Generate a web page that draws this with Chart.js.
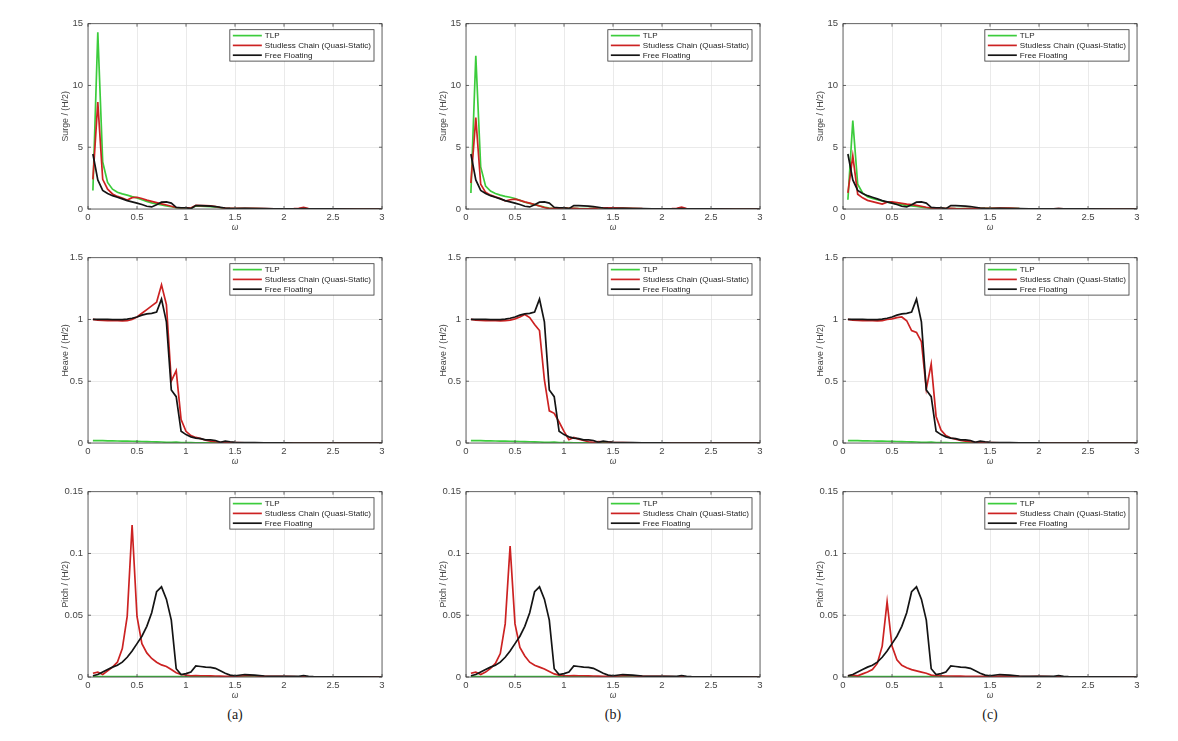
<!DOCTYPE html>
<html>
<head>
<meta charset="utf-8">
<title>Surge / Heave / Pitch RAO</title>
<script src="https://cdn.jsdelivr.net/npm/chart.js@4.4.1/dist/chart.umd.min.js"></script>
<style>
    body { margin: 0; width: 1178px; height: 741px; background: #fff; position: relative; overflow: hidden; }
    .panel { position: absolute; width: 330px; height: 222px; }
    .caption { position: absolute; top: 707px; width: 60px; text-align: center;
               font: 14px "Liberation Serif", "DejaVu Serif", serif; color: #1a1a1a; }
</style>
</head>
<body>
<div class="panel"><canvas id="c00"></canvas></div>
<div class="panel"><canvas id="c01"></canvas></div>
<div class="panel"><canvas id="c02"></canvas></div>
<div class="panel"><canvas id="c10"></canvas></div>
<div class="panel"><canvas id="c11"></canvas></div>
<div class="panel"><canvas id="c12"></canvas></div>
<div class="panel"><canvas id="c20"></canvas></div>
<div class="panel"><canvas id="c21"></canvas></div>
<div class="panel"><canvas id="c22"></canvas></div>
<div class="caption" style="left:205px">(a)</div>
<div class="caption" style="left:583px">(b)</div>
<div class="caption" style="left:960px">(c)</div>

<script>
// wave frequency samples (omega)
const omega = [0.05, 0.1, 0.15, 0.2, 0.25, 0.3, 0.35, 0.4, 0.45, 0.5,
    0.55, 0.6, 0.65, 0.7, 0.75, 0.8, 0.85, 0.9, 0.95, 1.0,
    1.05, 1.1, 1.15, 1.2, 1.25, 1.3, 1.35, 1.4, 1.45, 1.5,
    1.6, 1.7, 1.8, 1.9, 2.0, 2.1, 2.15, 2.2, 2.25, 2.3, 2.5, 2.75, 3.0];

// Surge
const surgeFree = [4.45, 2.35, 1.5, 1.25, 1.08, 0.95, 0.82, 0.68, 0.58, 0.48,
    0.36, 0.22, 0.17, 0.35, 0.55, 0.58, 0.48, 0.14, 0.1, 0.1,
    0.03, 0.28, 0.27, 0.26, 0.24, 0.2, 0.14, 0.08, 0.05, 0.04,
    0.05, 0.04, 0.03, 0.02, 0.02, 0.01, 0.01, 0.03, 0.01, 0.01, 0.01, 0, 0];
const surgeTlpA = [1.5, 14.3, 3.8, 2.15, 1.6, 1.35, 1.22, 1.12, 1.0, 0.9,
    0.75, 0.62, 0.5, 0.42, 0.33, 0.25, 0.18, 0.1, 0.08, 0.08,
    0.06, 0.25, 0.24, 0.22, 0.2, 0.16, 0.1, 0.06, 0.04, 0.04,
    0.04, 0.03, 0.02, 0.02, 0.01, 0.01, 0.01, 0.02, 0.01, 0.01, 0, 0, 0];
const surgeChainA = [2.4, 8.65, 2.4, 1.6, 1.22, 1.02, 0.88, 0.72, 0.92, 0.95,
    0.85, 0.72, 0.62, 0.52, 0.42, 0.32, 0.22, 0.12, 0.1, 0.1,
    0.08, 0.3, 0.28, 0.27, 0.25, 0.2, 0.12, 0.07, 0.05, 0.05,
    0.05, 0.05, 0.03, 0.02, 0.02, 0.03, 0.06, 0.13, 0.03, 0.01, 0.01, 0, 0];
const surgeTlpB = [1.3, 12.4, 3.4, 1.85, 1.45, 1.25, 1.12, 1.02, 0.95, 0.85,
    0.7, 0.55, 0.45, 0.35, 0.25, 0.15, 0.08, 0.05, 0.05, 0.08,
    0.05, 0.06, 0.04, 0.03, 0.04, 0.06, 0.08, 0.08, 0.08, 0.07,
    0.06, 0.04, 0.02, 0.02, 0.01, 0.01, 0.01, 0.02, 0.01, 0.01, 0, 0, 0];
const surgeChainB = [2.1, 7.4, 2.0, 1.35, 1.12, 0.98, 0.85, 0.65, 0.75, 0.8,
    0.7, 0.58, 0.47, 0.36, 0.24, 0.12, 0.03, 0.05, 0.06, 0.1,
    0.05, 0.05, 0.03, 0.02, 0.03, 0.05, 0.08, 0.1, 0.1, 0.09,
    0.08, 0.06, 0.03, 0.02, 0.02, 0.03, 0.06, 0.15, 0.03, 0.01, 0.01, 0, 0];
const surgeTlpC = [0.75, 7.15, 2.0, 1.3, 1.0, 0.85, 0.75, 0.65, 0.55, 0.5,
    0.42, 0.35, 0.3, 0.25, 0.2, 0.15, 0.1, 0.07, 0.05, 0.05,
    0.04, 0.04, 0.03, 0.03, 0.03, 0.04, 0.05, 0.05, 0.05, 0.05,
    0.06, 0.06, 0.03, 0.02, 0.01, 0.01, 0.01, 0.01, 0.01, 0, 0, 0, 0];
const surgeChainC = [1.3, 4.3, 1.2, 0.9, 0.7, 0.6, 0.5, 0.4, 0.55, 0.58,
    0.52, 0.46, 0.4, 0.35, 0.3, 0.22, 0.14, 0.08, 0.05, 0.05,
    0.05, 0.05, 0.03, 0.02, 0.03, 0.04, 0.05, 0.05, 0.05, 0.05,
    0.08, 0.08, 0.03, 0.02, 0.02, 0.02, 0.02, 0.03, 0.01, 0.01, 0, 0, 0];

// Heave
const heaveFree = [1.0, 1.0, 1.0, 1.0, 0.998, 0.998, 0.998, 1.003, 1.01, 1.02,
    1.035, 1.045, 1.05, 1.06, 1.165, 0.98, 0.43, 0.375, 0.095, 0.068,
    0.05, 0.04, 0.035, 0.025, 0.025, 0.02, 0.005, 0.015, 0.01, 0.006,
    0.004, 0.003, 0.002, 0.001, 0.001, 0, 0, 0, 0, 0, 0, 0, 0];
const heaveTlp = [0.02, 0.02, 0.019, 0.018, 0.017, 0.016, 0.015, 0.015, 0.014, 0.013,
    0.012, 0.011, 0.01, 0.009, 0.008, 0.006, 0.005, 0.007, 0.004, 0.003,
    0.003, 0.002, 0.002, 0.002, 0.001, 0.001, 0.001, 0.001, 0.001, 0.001,
    0.001, 0, 0, 0, 0, 0, 0, 0, 0, 0, 0, 0, 0];
const heaveChainA = [1.0, 0.995, 0.993, 0.99, 0.99, 0.99, 0.988, 0.99, 1.0, 1.02,
    1.05, 1.08, 1.11, 1.14, 1.28, 1.12, 0.5, 0.585, 0.19, 0.095,
    0.06, 0.045, 0.035, 0.022, 0.015, 0.01, 0.006, 0.005, 0.004, 0.003,
    0.002, 0.001, 0, 0, 0, 0, 0, 0, 0, 0, 0, 0, 0];
const heaveChainB = [1.0, 0.995, 0.993, 0.99, 0.99, 0.99, 0.988, 0.99, 0.995, 1.005,
    1.02, 1.04, 1.015, 0.96, 0.91, 0.51, 0.26, 0.24, 0.17, 0.094,
    0.027, 0.045, 0.03, 0.02, 0.01, 0.005, 0.012, 0.01, 0.008, 0.005,
    0.003, 0.001, 0, 0, 0, 0, 0, 0, 0, 0, 0, 0, 0];
const heaveChainC = [1.0, 0.995, 0.993, 0.99, 0.99, 0.99, 0.988, 0.99, 1.0, 1.005,
    1.015, 1.02, 0.99, 0.91, 0.895, 0.82, 0.435, 0.64, 0.215, 0.105,
    0.06, 0.04, 0.03, 0.02, 0.015, 0.01, 0.006, 0.005, 0.004, 0.003,
    0.002, 0.001, 0, 0, 0, 0, 0, 0, 0, 0, 0, 0, 0];

// Pitch
const pitchFree = [0.001, 0.002, 0.004, 0.006, 0.008, 0.0095, 0.012, 0.016, 0.021, 0.027,
    0.033, 0.041, 0.052, 0.069, 0.073, 0.063, 0.046, 0.0067, 0.002, 0.0027,
    0.004, 0.009, 0.0085, 0.008, 0.0078, 0.007, 0.005, 0.003, 0.0015, 0.001,
    0.002, 0.0015, 0.0008, 0.0005, 0.0005, 0.0005, 0.0005, 0.0012, 0.0005, 0.0003, 0.0002, 0.0001, 0];
const pitchTlp = [0.0004, 0.0004, 0.0004, 0.0004, 0.0004, 0.0004, 0.0004, 0.0004, 0.0004, 0.0004,
    0.0004, 0.0004, 0.0004, 0.0003, 0.0003, 0.0003, 0.0003, 0.0003, 0.0003, 0.0002,
    0.0002, 0.0002, 0.0001, 0.0001, 0.0001, 0.0001, 0.0001, 0.0001, 0.0001, 0.0001,
    0, 0, 0, 0, 0, 0, 0, 0, 0, 0, 0, 0, 0];
const pitchChainA = [0.003, 0.004, 0.002, 0.005, 0.008, 0.012, 0.023, 0.049, 0.123, 0.049,
    0.027, 0.0195, 0.015, 0.012, 0.0098, 0.0085, 0.006, 0.0035, 0.002, 0.0015,
    0.001, 0.0012, 0.001, 0.001, 0.0009, 0.0008, 0.0007, 0.0006, 0.0006, 0.0006,
    0.001, 0.001, 0.0005, 0.0005, 0.0006, 0.0003, 0.0002, 0.0002, 0.0002, 0.0001, 0.0001, 0, 0];
const pitchChainB = [0.003, 0.004, 0.002, 0.004, 0.007, 0.011, 0.019, 0.043, 0.106, 0.043,
    0.024, 0.017, 0.012, 0.0095, 0.008, 0.0065, 0.0045, 0.0025, 0.0015, 0.0012,
    0.001, 0.0012, 0.001, 0.001, 0.0009, 0.0008, 0.0007, 0.0006, 0.0006, 0.0006,
    0.001, 0.001, 0.0005, 0.0005, 0.0006, 0.0003, 0.0002, 0.0002, 0.0002, 0.0001, 0.0001, 0, 0];
const pitchChainC = [0.001, 0.0015, 0.001, 0.0025, 0.004, 0.006, 0.011, 0.025, 0.061, 0.025,
    0.014, 0.0095, 0.0075, 0.006, 0.005, 0.004, 0.003, 0.0015, 0.001, 0.001,
    0.0008, 0.0008, 0.0007, 0.0007, 0.0006, 0.0006, 0.0005, 0.0005, 0.0005, 0.0005,
    0.0007, 0.0007, 0.0004, 0.0004, 0.0005, 0.0003, 0.0002, 0.0002, 0.0002, 0.0001, 0.0001, 0, 0];

const seriesLabels = ['TLP', 'Studless Chain (Quasi-Static)', 'Free Floating'];
const seriesColors = ['#3ccc3c', '#cc2222', '#141414'];
const rowTitles = ['Surge / (H/2)', 'Heave / (H/2)', 'Pitch / (H/2)'];
const rowYMax = [15, 1.5, 0.15];
const rowYStep = [5, 0.5, 0.05];
const xMax = 3;
const xStep = 0.5;

const tlpSeries = [[surgeTlpA, surgeTlpB, surgeTlpC], [heaveTlp, heaveTlp, heaveTlp], [pitchTlp, pitchTlp, pitchTlp]];
const chainSeries = [[surgeChainA, surgeChainB, surgeChainC], [heaveChainA, heaveChainB, heaveChainC], [pitchChainA, pitchChainB, pitchChainC]];
const freeSeries = [surgeFree, heaveFree, pitchFree];

// panel placement (plot area top-left corner)
const plotLefts = [88, 466, 843];
const plotTops = [23, 257, 491];

const fmt = v => String(+Number(v).toFixed(4));

// MATLAB-like box, inward ticks and boxed legend inside the plot
const framePlugin = {
    id: 'matlabFrame',
    afterDraw(chart) {
        const ctx = chart.ctx;
        const a = chart.chartArea;
        const xs = chart.scales.x, ys = chart.scales.y;
        ctx.save();
        ctx.strokeStyle = '#444';
        ctx.lineWidth = 0.8;
        ctx.strokeRect(a.left, a.top, a.right - a.left, a.bottom - a.top);
        ctx.beginPath();
        xs.ticks.forEach(t => {
            const px = xs.getPixelForValue(t.value);
            ctx.moveTo(px, a.bottom); ctx.lineTo(px, a.bottom - 3);
            ctx.moveTo(px, a.top); ctx.lineTo(px, a.top + 3);
        });
        ys.ticks.forEach(t => {
            const py = ys.getPixelForValue(t.value);
            ctx.moveTo(a.left, py); ctx.lineTo(a.left + 3, py);
            ctx.moveTo(a.right, py); ctx.lineTo(a.right - 3, py);
        });
        ctx.stroke();

        // legend
        ctx.font = '8.1px "Liberation Sans", Arial, sans-serif';
        const sets = chart.data.datasets;
        const textW = Math.max(...sets.map(d => ctx.measureText(d.label).width));
        const rowH = 9.8, lineLen = 29;
        const w = 3 + lineLen + 3 + textW + 3;
        const h = rowH * sets.length + 2;
        const x0 = a.right - 8 - w, y0 = a.top + 6;
        ctx.fillStyle = '#fff';
        ctx.fillRect(x0, y0, w, h);
        ctx.strokeStyle = '#333';
        ctx.lineWidth = 0.8;
        ctx.strokeRect(x0, y0, w, h);
        sets.forEach((d, i) => {
            const y = y0 + 1 + rowH * (i + 0.5);
            ctx.strokeStyle = d.borderColor;
            ctx.lineWidth = 1.7;
            ctx.beginPath();
            ctx.moveTo(x0 + 3, y); ctx.lineTo(x0 + 3 + lineLen, y);
            ctx.stroke();
            ctx.fillStyle = '#1e1e1e';
            ctx.textBaseline = 'middle';
            ctx.textAlign = 'left';
            ctx.fillText(d.label, x0 + 3 + lineLen + 3, y + 0.5);
        });
        ctx.restore();
    }
};

Chart.defaults.font.family = '"Liberation Sans", Arial, sans-serif';
Chart.defaults.color = '#454545';

function toPoints(values) {
    return omega.map((x, i) => ({ x: x, y: values[i] }));
}

for (let r = 0; r < 3; r++) {
    for (let c = 0; c < 3; c++) {
        const canvas = document.getElementById('c' + r + c);
        const box = canvas.parentNode;
        box.style.left = (plotLefts[c] - 28) + 'px';
        box.style.top = (plotTops[r] - 10) + 'px';

        const series = [tlpSeries[r][c], chainSeries[r][c], freeSeries[r]];
        new Chart(canvas, {
            type: 'line',
            data: {
                datasets: series.map((s, i) => ({
                    label: seriesLabels[i],
                    data: toPoints(s),
                    borderColor: seriesColors[i],
                    backgroundColor: seriesColors[i],
                    borderWidth: 1.7,
                    pointRadius: 0,
                    tension: 0,
                    fill: false,
                    order: 3 - i
                }))
            },
            options: {
                responsive: true,
                maintainAspectRatio: false,
                animation: false,
                layout: { padding: { left: 0, top: 10, right: 8, bottom: 0 } },
                plugins: { legend: { display: false }, tooltip: { enabled: false } },
                scales: {
                    x: {
                        type: 'linear',
                        min: 0,
                        max: xMax,
                        grid: { color: '#e4e4e4', lineWidth: 0.8, drawTicks: false },
                        border: { display: false },
                        ticks: { stepSize: xStep, padding: 3, autoSkip: false, maxRotation: 0,
                                 font: { size: 9.5 }, callback: v => fmt(v) },
                        title: { display: true, text: 'ω', font: { size: 8.5, style: 'italic' },
                                 color: '#454545', padding: { top: 0, bottom: 2 } },
                        afterFit: s => { s.height = 26; }
                    },
                    y: {
                        min: 0,
                        max: rowYMax[r],
                        grid: { color: '#e4e4e4', lineWidth: 0.8, drawTicks: false },
                        border: { display: false },
                        ticks: { stepSize: rowYStep[r], padding: 5, font: { size: 9.5 },
                                 callback: v => fmt(v) },
                        title: { display: true, text: rowTitles[r], font: { size: 8.8 },
                                 color: '#454545', padding: { top: 0, bottom: 0 } },
                        afterFit: s => { s.width = 28; }
                    }
                }
            },
            plugins: [framePlugin]
        });
    }
}
</script>
</body>
</html>
